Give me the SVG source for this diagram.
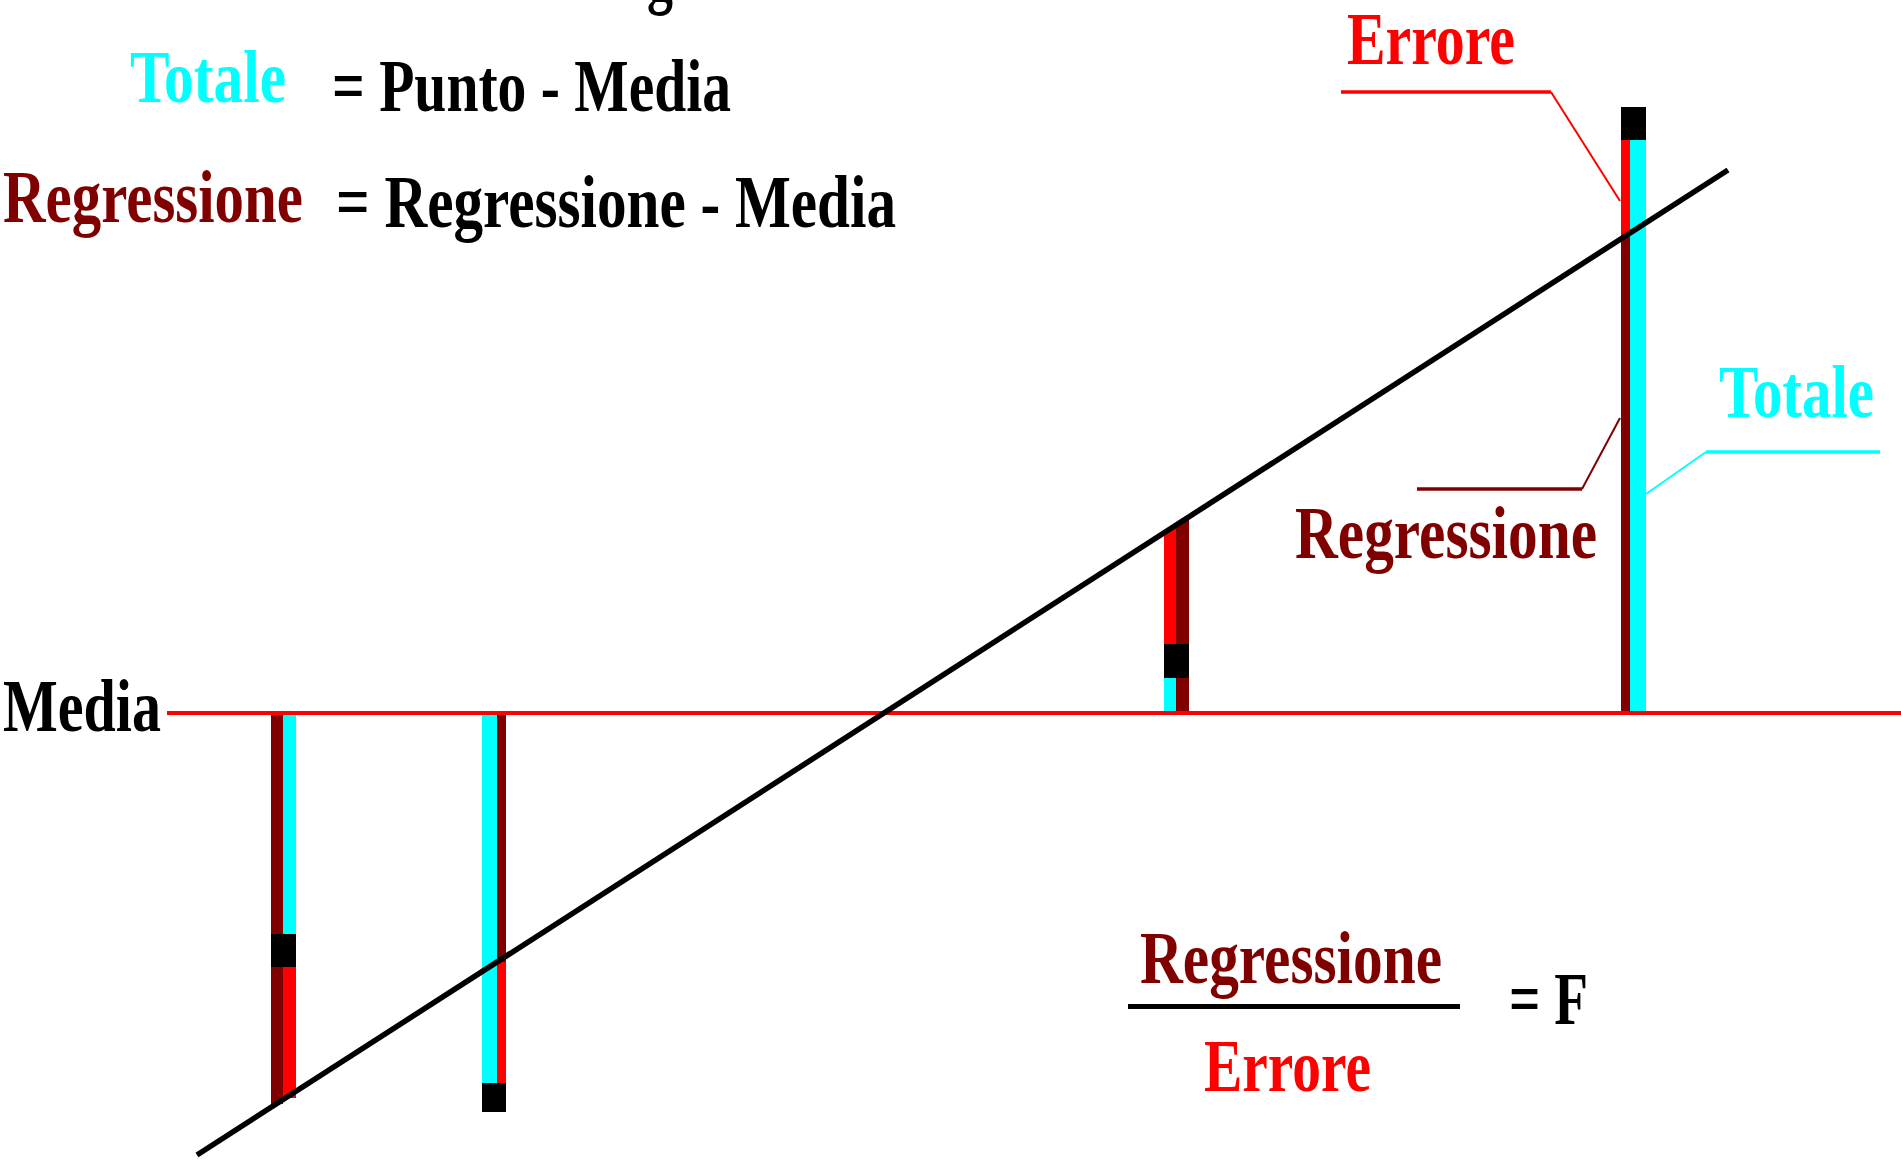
<svg xmlns="http://www.w3.org/2000/svg" width="1901" height="1160" viewBox="0 0 1901 1160">
<style>
.t{font-family:"Liberation Serif","Times New Roman",serif;font-weight:bold;font-size:74px}
.cy{fill:#00FFFF}.dr{fill:#800000}.rd{fill:#FF0000}.bk{fill:#000000}
</style>
<rect width="1901" height="1160" fill="#FFFFFF"/>
<g id="formulas">
<text class="t bk" x="647" y="0" textLength="26" lengthAdjust="spacingAndGlyphs">g</text>
<text class="t cy" x="130" y="102" textLength="156" lengthAdjust="spacingAndGlyphs">Totale</text>
<text class="t bk" x="332" y="111" textLength="399" lengthAdjust="spacingAndGlyphs">= Punto - Media</text>
<text class="t dr" x="3" y="222" textLength="300" lengthAdjust="spacingAndGlyphs">Regressione</text>
<text class="t bk" x="336" y="227" textLength="560" lengthAdjust="spacingAndGlyphs">= Regressione - Media</text>
</g>
<g id="media-label">
<text class="t bk" x="3" y="731" textLength="158" lengthAdjust="spacingAndGlyphs">Media</text>
</g>
<g id="bar1">
<rect class="dr" x="271" y="715" width="12" height="389"/>
<rect class="cy" x="283" y="715" width="13" height="219"/>
<rect class="bk" x="271" y="934" width="25" height="33"/>
<rect class="rd" x="283" y="967" width="13" height="131"/>
</g>
<g id="bar2">
<rect class="cy" x="482" y="715" width="15" height="368"/>
<rect class="dr" x="497" y="715" width="9" height="250"/>
<rect class="rd" x="497" y="962" width="9" height="121"/>
<rect class="bk" x="482" y="1083" width="24" height="29"/>
</g>
<g id="bar3">
<polygon class="rd" points="1164,535 1176,527 1176,644 1164,644"/>
<polygon class="dr" points="1176,527 1189,519 1189,644 1176,644"/>
<rect class="bk" x="1164" y="644" width="25" height="34"/>
<rect class="cy" x="1164" y="678" width="12" height="33"/>
<rect class="dr" x="1176" y="678" width="13" height="33"/>
</g>
<g id="bar4">
<rect class="bk" x="1621" y="107" width="25" height="33"/>
<polygon class="rd" points="1621,140 1630,140 1630,236 1621,242"/>
<polygon class="dr" points="1621,240 1630,234 1630,711 1621,711"/>
<rect class="cy" x="1630" y="140" width="16" height="571"/>
</g>
<g id="connectors">
<line x1="167" y1="713" x2="1901" y2="713" stroke="#FF0000" stroke-width="4"/>
<line x1="197" y1="1155" x2="1728" y2="170" stroke="#000000" stroke-width="5.5"/>
<line x1="1341" y1="92" x2="1551" y2="92" stroke="#FF0000" stroke-width="3.5"/>
<line x1="1551" y1="92" x2="1620" y2="201" stroke="#FF0000" stroke-width="2"/>
<line x1="1417" y1="489" x2="1582" y2="489" stroke="#800000" stroke-width="3.5"/>
<line x1="1582" y1="489" x2="1620" y2="418" stroke="#800000" stroke-width="2"/>
<line x1="1706" y1="452" x2="1880" y2="452" stroke="#00FFFF" stroke-width="3.5"/>
<line x1="1706" y1="452" x2="1646" y2="494" stroke="#00FFFF" stroke-width="2"/>
</g>
<g id="label-errore">
<text class="t rd" x="1347" y="64" textLength="168" lengthAdjust="spacingAndGlyphs">Errore</text>
</g>
<g id="label-totale">
<text class="t cy" x="1719" y="417" textLength="155" lengthAdjust="spacingAndGlyphs">Totale</text>
</g>
<g id="label-regressione">
<text class="t dr" x="1295" y="558" textLength="302" lengthAdjust="spacingAndGlyphs">Regressione</text>
</g>
<g id="fraction">
<text class="t dr" x="1140" y="983" textLength="302" lengthAdjust="spacingAndGlyphs">Regressione</text>
<rect class="bk" x="1128" y="1004" width="332" height="5"/>
<text class="t rd" x="1204" y="1091" textLength="167" lengthAdjust="spacingAndGlyphs">Errore</text>
<text class="t bk" x="1509" y="1024" textLength="79" lengthAdjust="spacingAndGlyphs">= F</text>
</g>
</svg>
